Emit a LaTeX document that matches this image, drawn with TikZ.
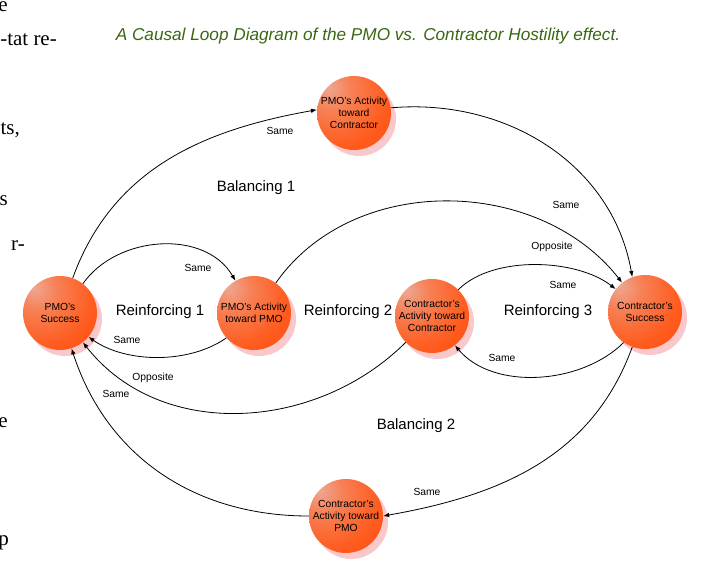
\documentclass[tikz,border=0pt]{standalone}
\usepackage{fontspec}
\setmainfont{Liberation Serif}
\setsansfont{Liberation Sans}
\usetikzlibrary{arrows.meta,shadows}

\definecolor{titlegreen}{RGB}{58,104,18}
\definecolor{shadowpink}{RGB}{249,200,202}
\pgfdeclareradialshading{ballshade}{\pgfpoint{-18bp}{18bp}}{%
  rgb(0bp)=(0.93,0.66,0.58);
  rgb(14bp)=(0.97,0.50,0.33);
  rgb(34bp)=(1.0,0.36,0.12);
  rgb(56bp)=(0.99,0.28,0.03);
  rgb(100bp)=(0.94,0.24,0.01)}

\tikzset{
  ball/.style={circle, minimum size=74pt, inner sep=0pt, shading=ballshade,
    align=center, text=black, font=\sffamily\fontsize{10.3}{11.8}\selectfont,
    general shadow={shadow xshift=5pt, shadow yshift=-6pt,
      fill=shadowpink}},
  link/.style={-{Latex[length=6pt,width=4.5pt]}, line width=0.8pt, black},
  lbl/.style={font=\sffamily\fontsize{10.3}{12}\selectfont, inner sep=0pt},
  loop/.style={font=\sffamily\fontsize{15}{18}\selectfont, inner sep=0pt},
  stray/.style={font=\fontsize{21}{24}\selectfont, inner sep=0pt, anchor=base east}
}

\begin{document}
\begin{tikzpicture}[x=1pt,y=-1pt]
\useasboundingbox (0,0) rectangle (711,570);
\clip (0,0) rectangle (711,570);

% stray body text at the left edge
\node[stray] (s1) at (8,12) {e};
\node[stray] (s2) at (57,45) {-tat re-};
\node[stray] (s3) at (20,134) {ts,};
\node[stray] (s4) at (8,205) {s};
\node[stray] (s5) at (25,250) {r-};
\node[stray] (s6) at (8,427) {e};
\node[stray] (s7) at (9,545) {p};

% title
\node[font=\sffamily\itshape\fontsize{17.2}{20}\selectfont, text=titlegreen, inner sep=0pt]
  (title) at (368,36) {A Causal Loop Diagram of the PMO vs. Contractor Hostility effect.};

% nodes
\node[ball] (ps)  at (60,313)  {PMO's\\Success};
\node[ball] (pap) at (254,313) {PMO’s Activity\\toward PMO};
\node[ball] (cac) at (432,316) {Contractor’s\\Activity toward\\Contractor};
\node[ball] (cs)  at (645,312) {Contractor’s\\Success};
\node[ball] (pac) at (354,113) {PMO’s Activity\\toward\\Contractor};
\node[ball] (cap) at (346,516) {Contractor’s\\Activity toward\\PMO};

% connectors
\draw[link] (ps.70)   to[out=70,  in=190] (pac.175);
\draw[link] (pac.8)   to[out=5,   in=100] (cs.110);
\draw[link] (ps.52)   to[out=55,  in=120] (pap.120);
\draw[link] (pap.222) to[out=215, in=-35, looseness=0.85] (ps.-40);
\draw[link] (pap.54)  to[out=55,  in=128] (cs.128);
\draw[link] (cac.45)  to[out=45,  in=142, looseness=0.8] (cs.142);
\draw[link] (cs.235)  to[out=225, in=-50, looseness=0.9] (cac.-52);
\draw[link] (cac.225) to[out=225, in=-52] (ps.-52);
\draw[link] (cs.250)  to[out=250, in=10]  (cap.0);
\draw[link] (cap.180) to[out=180, in=-72] (ps.-72);

% polarity labels
\node[lbl] (l1)  at (280,131) {Same};
\node[lbl] (l2)  at (566,205) {Same};
\node[lbl] (l3)  at (198,268) {Same};
\node[lbl] (l4)  at (127,340) {Same};
\node[lbl] (l5)  at (552,247) {Opposite};
\node[lbl] (l6)  at (563,285) {Same};
\node[lbl] (l7)  at (502,358) {Same};
\node[lbl] (l8)  at (153,378) {Opposite};
\node[lbl] (l9)  at (427,492) {Same};
\node[lbl] (l10) at (116,394) {Same};

% loop labels
\node[loop] (r1) at (160,312) {Reinforcing 1};
\node[loop] (r2) at (348,312) {Reinforcing 2};
\node[loop] (r3) at (548,312) {Reinforcing 3};
\node[loop] (b1) at (256,188) {Balancing 1};
\node[loop] (b2) at (416,426) {Balancing 2};
\end{tikzpicture}
\end{document}
